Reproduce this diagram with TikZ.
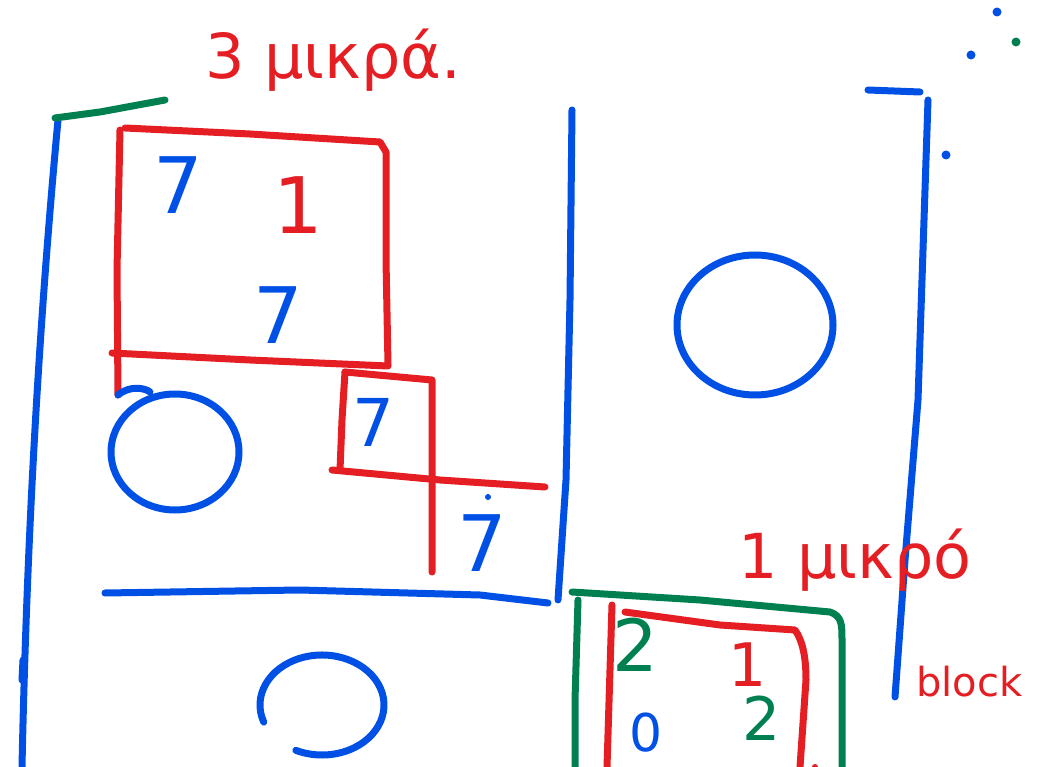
\documentclass[tikz,border=0pt]{standalone}
\usepackage{fontspec}
\setmainfont{DejaVu Sans}
\definecolor{cblue}{RGB}{0,80,230}
\definecolor{cred}{RGB}{228,30,34}
\definecolor{cgreen}{RGB}{0,128,80}
\begin{document}
\begin{tikzpicture}[x=1pt,y=-1pt,line cap=round,line join=round,
  pen/.style={line width=7pt},
  bpen/.style={pen,draw=cblue},
  rpen/.style={pen,draw=cred},
  gpen/.style={pen,draw=cgreen},
  digit/.style={inner sep=0pt,font=\fontsize{78}{78}\selectfont},
  note/.style={inner sep=0pt,text=cred,font=\fontsize{62}{62}\selectfont},
  dot/.style={circle,inner sep=0pt,minimum size=9pt}]
\useasboundingbox (0,0) rectangle (1042,767);
% left big bracket
\draw[bpen] (58,120) .. controls (45,260) and (28,480) .. (22,767);
\draw[bpen] (23,660) -- (22,680);
\draw[gpen] (55,118) -- (100,112) -- (165,100);
% red box 1
\draw[rpen] (120,130) -- (117,270) -- (118,395);
\draw[rpen] (125,128) -- (250,134) -- (380,142) -- (386,152) -- (386,260) -- (388,365);
\draw[rpen] (112,353) -- (250,360) -- (388,366);
% red box 2
\draw[rpen] (345,372) -- (432,380) -- (432,475) -- (432,572);
\draw[rpen] (345,372) -- (342,420) -- (340,470);
\draw[rpen] (332,470) -- (440,480) -- (545,487);
% middle blue vertical and horizontal
\draw[bpen] (572,110) -- (570,300) -- (566,480) -- (558,600);
\draw[bpen] (105,593) -- (300,590) -- (480,595) -- (548,603);
% circles
\draw[bpen] (118,395) .. controls (130,385) and (145,388) .. (150,392);
\draw[bpen] (175,452) ellipse[x radius=64,y radius=58];
\draw[bpen] (755,325) ellipse[x radius=78,y radius=70];
\draw[bpen] (322,705) ++(160:62 and 50) arc[start angle=160,end angle=475,x radius=62,y radius=50];
% digits in upper-left matrix
\node[digit,text=cblue] (a) at (178,185) {7};
\node[digit,text=cred] (b) at (298,205) {1};
\node[digit,text=cblue] (c) at (278,315) {7};
\node[digit,text=cblue,font=\fontsize{66}{66}\selectfont] (d) at (373,422) {7};
\node[digit,text=cblue] (e) at (482,543) {7};
\node[dot,fill=cblue,minimum size=6pt] (edot) at (488,497) {};
% right bracket
\draw[bpen] (868,90) -- (920,92);
\draw[bpen] (928,100) -- (918,400) -- (905,560) -- (895,697);
% dots top right
\node[dot,fill=cblue] (p1) at (997,12) {};
\node[dot,fill=cgreen] (p2) at (1016,42) {};
\node[dot,fill=cblue] (p3) at (971,55) {};
\node[dot,fill=cblue] (p4) at (946,155) {};
% green box
\draw[gpen] (572,592) -- (700,600) -- (830,612) .. controls (842,616) and (842,625) .. (842,640) -- (842,767);
\draw[gpen] (578,600) -- (575,700) -- (575,767);
% red inner box
\draw[rpen] (612,605) -- (607,767);
\draw[rpen] (625,612) -- (720,625) -- (795,630) .. controls (802,640) and (806,655) .. (806,680) -- (800,767);
\node[dot,fill=cred,minimum size=6pt] (q) at (815,767) {};
% digits in lower-right block
\node[digit,text=cgreen,font=\fontsize{72}{72}\selectfont] (f) at (635,645) {2};
\node[digit,text=cred,font=\fontsize{60}{60}\selectfont] (g) at (748,665) {1};
\node[digit,text=cgreen,font=\fontsize{60}{60}\selectfont] (h) at (762,718) {2};
\node[digit,text=cblue,font=\fontsize{52}{52}\selectfont] (i) at (646,733) {0};
% labels
\node[note,anchor=west] (t1) at (205,60) {3 μικρά.};
\node[note,anchor=west] (t2) at (738,560) {1 μικρό};
\node[note,anchor=west,font=\fontsize{40}{40}\selectfont] (t3) at (916,682) {block};
\end{tikzpicture}
\end{document}
